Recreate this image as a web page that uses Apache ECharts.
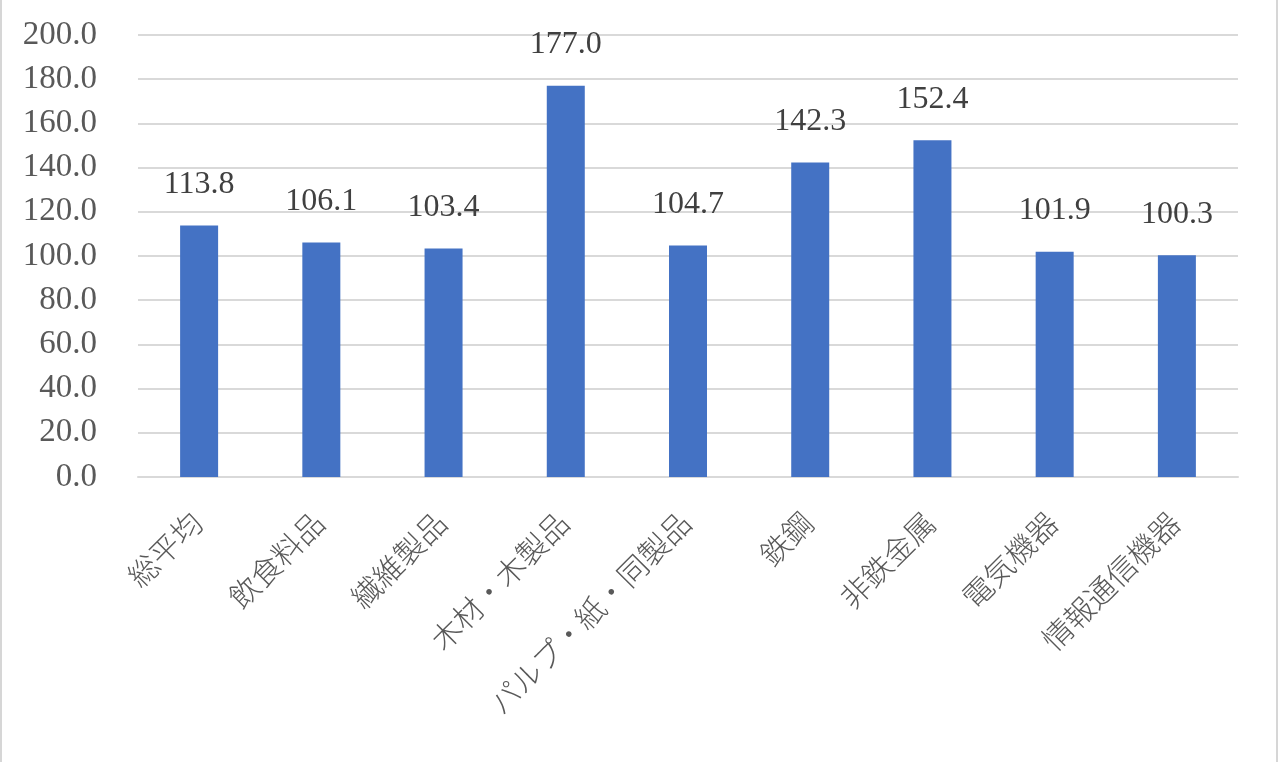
<!DOCTYPE html>
<html>
<head>
<meta charset="utf-8">
<script src="https://cdn.jsdelivr.net/npm/echarts@6/dist/echarts.min.js"></script>
<style>
  html, body { margin: 0; padding: 0; background: #fff; }
  #frame { position: absolute; left: 0; top: 0; width: 1274px; height: 762px;
           border-left: 2px solid #d6d6d6; border-right: 2px solid #d6d6d6; }
  #main { position: absolute; left: -2px; top: 0; width: 1280px; height: 762px; }
</style>
</head>
<body>
<div id="frame"></div>
<div id="main"></div>
<script>
// 業種別の指数
const categories = ['総平均', '飲食料品', '繊維製品', '木材・木製品', 'パルプ・紙・同製品', '鉄鋼', '非鉄金属', '電気機器', '情報通信機器'];
const values = [113.8, 106.1, 103.4, 177.0, 104.7, 142.3, 152.4, 101.9, 100.3];
const yTicks = [0, 20, 40, 60, 80, 100, 120, 140, 160, 180, 200];

const font = '"Liberation Serif", "Noto Sans CJK JP", serif';
const textColor = '#595959';

const chart = echarts.init(document.getElementById('main'));
chart.setOption({
  animation: false,
  grid: { left: 140, right: 40, top: 35, bottom: 285, containLabel: false, outerBoundsMode: 'none' },
  xAxis: {
    type: 'category',
    data: categories,
    axisTick: { show: false },
    axisLine: { lineStyle: { color: '#d9d9d9', width: 2 } },
    axisLabel: { rotate: 45, margin: 43, color: textColor, fontSize: 30, fontWeight: 300,
                 fontFamily: font, interval: 0 }
  },
  yAxis: {
    type: 'value',
    min: yTicks[0],
    max: yTicks[yTicks.length - 1],
    interval: yTicks[1] - yTicks[0],
    axisLine: { show: false },
    axisTick: { show: false },
    splitLine: { lineStyle: { color: '#d9d9d9', width: 2 } },
    axisLabel: { margin: 41, color: textColor, fontSize: 33, fontFamily: font,
                 formatter: v => v.toFixed(1) }
  },
  series: [{
    type: 'bar',
    data: values,
    barWidth: 38,
    itemStyle: { color: '#4472C4' },
    label: { show: true, position: 'top', distance: 25, color: '#404040', fontSize: 32,
             fontFamily: font, formatter: p => p.value.toFixed(1) }
  }]
});
</script>
</body>
</html>
